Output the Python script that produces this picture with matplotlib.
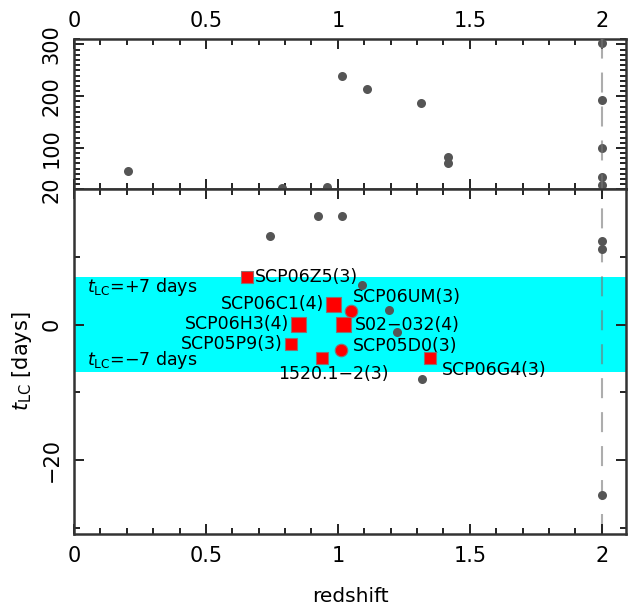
import matplotlib
matplotlib.use('Agg')
import matplotlib.pyplot as plt
from matplotlib.ticker import MultipleLocator, FixedLocator, FixedFormatter, FuncFormatter

# red: SNe with t_LC constrained (name, number of LC points)
red_names = ['SCP06Z5', 'SCP06C1', 'SCP06UM', 'SCP06H3', 'S02\u2212032',
             'SCP05P9', 'SCP05D0', '1520.1\u22122', 'SCP06G4']
red_nlc = [3, 4, 3, 4, 4, 3, 3, 3, 3]
red_z = [0.655, 0.981, 1.050, 0.850, 1.019, 0.823, 1.012, 0.939, 1.350]
red_t = [7.1, 3.1, 2.1, 0.15, 0.15, -2.9, -3.8, -4.9, -4.9]
red_round = [False, False, True, False, False, False, True, False, False]

# gray: other SNe, lower panel (t_LC < 20)
gray_z_lo = [0.926, 1.015, 0.743, 1.091, 1.192, 1.223, 1.318, 2.0, 2.0, 2.0]
gray_t_lo = [16.1, 16.1, 13.1, 5.9, 2.2, -1.0, -8.0, 12.3, 11.2, -25.1]

# gray: upper panel (t_LC > 20)
gray_z_hi = [0.203, 0.787, 0.958, 1.015, 1.111, 1.314, 1.417, 1.417,
             2.0, 2.0, 2.0, 2.0, 2.0]
gray_t_hi = [56, 22, 25, 240, 213, 186, 83, 70, 302, 193, 99, 44, 28]

hi_ticks = [20, 100, 200, 300]
lo_ticks = [-20, 0, 20]
lo_ticklabels = ['\u221220', '0', '']
band = 7

# label placement (offset in pixels, alignment)
lab_pos = [(8, 0, 'left'), (-9, 0, 'right'), (2, 14, 'left'), (-9, 0, 'right'),
           (12, -1, 'left'), (-9, 0, 'right'), (12, 4, 'left'),
           (12, -16, 'center'), (12, -12, 'left')]

W, H = 628, 606
fig = plt.figure(figsize=(W / 100, H / 100), dpi=100)
L, R = 74 / W, 626 / W
ymid = 1 - 189.3 / H
ax_hi = fig.add_axes([L, ymid, R - L, (1 - 39.3 / H) - ymid])
ax_lo = fig.add_axes([L, 1 - 534 / H, R - L, ymid - (1 - 534 / H)])

gray = '#555555'
spine_c = '#333333'

for ax in (ax_hi, ax_lo):
    ax.set_xlim(0, 2.092)
    ax.xaxis.set_major_locator(MultipleLocator(0.5))
    ax.xaxis.set_minor_locator(MultipleLocator(0.1))
    ax.xaxis.set_major_formatter(FuncFormatter(lambda v, p: '%g' % v))
    ax.tick_params(which='both', direction='in', top=True, bottom=True,
                   left=True, right=True, width=1.4, color='#222222',
                   labelsize=15)
    ax.tick_params(which='major', length=7)
    ax.tick_params(which='minor', length=4)
    ax.tick_params(axis='y', labelrotation=90, pad=9)
    for s in ax.spines.values():
        s.set_linewidth(1.8)
        s.set_color(spine_c)

ax_hi.set_ylim(20, 310)
ax_hi.yaxis.set_major_locator(FixedLocator(hi_ticks))
ax_hi.yaxis.set_minor_locator(MultipleLocator(10))
ax_hi.tick_params(axis='x', labeltop=True, labelbottom=False, pad=6)

ax_lo.set_ylim(-30.9, 20)
ax_lo.yaxis.set_major_locator(FixedLocator(lo_ticks))
ax_lo.yaxis.set_major_formatter(FixedFormatter(lo_ticklabels))
ax_lo.yaxis.set_minor_locator(MultipleLocator(10))
ax_lo.tick_params(axis='x', pad=9)

for ax in (ax_hi, ax_lo):
    for t in ax.get_yticklabels():
        t.set_va('center')

# cyan band |t_LC| < 7
ax_lo.axhspan(-band, band, color='#00ffff', lw=0, zorder=0)

# dashed line at z=2 through both panels
ax_lo.axvline(2.0, 0, 494.7 / 344.7, color='#777777', alpha=0.6, lw=1.5,
              dashes=(9.6, 6.7), clip_on=False, zorder=1)

ax_lo.text(0.05, 4.9, r'$t_{\rm LC}$=+7 days', fontsize=12.5, va='baseline', zorder=2)
ax_lo.text(0.05, -5.9, r'$t_{\rm LC}$=' + '\u22127 days',
           fontsize=12.5, va='baseline', zorder=2)

for name, n, z, t, (dx, dy, ha) in zip(red_names, red_nlc, red_z, red_t, lab_pos):
    ax_lo.annotate('%s(%d)' % (name, n), (z, t), xytext=(dx, dy),
                   textcoords='offset pixels', ha=ha, va='center',
                   fontsize=12.5, zorder=3)

ax_hi.plot(gray_z_hi, gray_t_hi, 'o', color=gray, ms=6.5, mew=0,
           clip_on=False, zorder=4)
ax_lo.plot(gray_z_lo, gray_t_lo, 'o', color=gray, ms=6.5, mew=0,
           clip_on=False, zorder=4)

for z, t, n, rnd in zip(red_z, red_t, red_nlc, red_round):
    if rnd:
        ax_lo.plot(z, t, 'o', color='#ff0000', ms=9, mec='#8a7070', mew=0.8,
                   zorder=5)
    else:
        ax_lo.plot(z, t, 's', color='#ff0000', ms=10.8 if n == 4 else 8.8,
                   mec='#8a7070', mew=0.8, zorder=5)

fig.text(350 / W, 1 - 597 / H, 'redshift', fontsize=14.5, ha='center', va='center')
fig.text(22 / W, 1 - 361 / H, r'$t_{\rm LC}$ [days]', fontsize=15,
         rotation=90, ha='center', va='center')

fig.savefig('out.png', dpi=100)
